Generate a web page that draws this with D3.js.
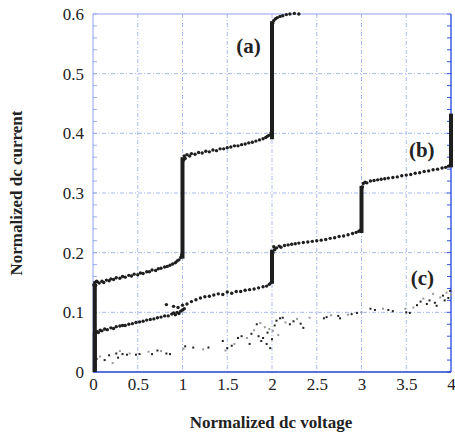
<!DOCTYPE html>
<html>
<head>
<meta charset="utf-8">
<script src="https://cdn.jsdelivr.net/npm/d3@7"></script>
<style>
  body { margin: 0; background: #fff; }
  svg text { font-family: "Liberation Serif", "DejaVu Serif", serif; fill: #222; }
</style>
</head>
<body>
<svg></svg>
<script>
// curve (a): plateaus as dots, steps as thick vertical runs [x, yFrom, yTo]
var aDots = [[0.01,0.146],[0.02,0.150],[0.03,0.145],[0.04,0.152],[0.05,0.151],[0.07,0.149],[0.1,0.152],[0.12,0.150],
  [0.15,0.154],[0.18,0.153],[0.2,0.156],[0.23,0.155],[0.26,0.158],[0.3,0.157],[0.33,0.160],[0.36,0.159],[0.4,0.162],
  [0.43,0.161],[0.46,0.164],[0.5,0.163],[0.53,0.166],[0.56,0.165],[0.6,0.168],[0.63,0.168],[0.66,0.171],[0.7,0.170],
  [0.73,0.173],[0.76,0.174],[0.8,0.176],[0.83,0.177],[0.86,0.179],[0.89,0.181],[0.92,0.183],[0.94,0.186],[0.96,0.188],
  [0.98,0.192],[0.99,0.196],
  [1.01,0.355],[1.02,0.362],[1.03,0.358],[1.05,0.364],[1.08,0.362],[1.1,0.366],[1.14,0.365],[1.18,0.368],[1.22,0.367],
  [1.26,0.370],[1.3,0.369],[1.34,0.372],[1.38,0.371],[1.42,0.374],[1.46,0.374],[1.5,0.376],[1.54,0.377],[1.58,0.379],
  [1.62,0.379],[1.66,0.381],[1.7,0.382],[1.74,0.384],[1.78,0.385],[1.82,0.387],[1.86,0.389],[1.9,0.391],[1.93,0.393],
  [1.95,0.395],[1.97,0.397],[1.99,0.401],
  [2.01,0.585],[2.02,0.589],[2.04,0.592],[2.06,0.594],[2.09,0.596],[2.12,0.597],[2.16,0.599],[2.2,0.6],[2.25,0.601],[2.3,0.6]];
var aSteps = [[0.02,0,0.148],[1.0,0.19,0.36],[2.0,0.39,0.588]];

// curve (b)
var bDots = [[0.02,0.062],[0.04,0.068],[0.06,0.066],[0.08,0.070],[0.1,0.069],[0.13,0.072],[0.16,0.071],[0.2,0.074],
  [0.23,0.073],[0.26,0.076],[0.3,0.077],[0.33,0.078],[0.36,0.078],[0.4,0.080],[0.44,0.081],[0.48,0.083],[0.52,0.084],
  [0.56,0.085],[0.6,0.087],[0.64,0.088],[0.68,0.089],[0.72,0.091],[0.76,0.092],[0.8,0.094],[0.82,0.113],[0.84,0.094],
  [0.88,0.097],[0.9,0.099],[0.9,0.110],[0.92,0.096],[0.94,0.100],[0.95,0.108],[0.96,0.098],[0.98,0.102],[1.0,0.104],
  [1.0,0.112],[1.02,0.106],[1.05,0.114],[1.1,0.118],[1.15,0.121],[1.2,0.124],[1.25,0.126],[1.3,0.127],[1.35,0.129],
  [1.4,0.131],[1.45,0.130],[1.5,0.134],[1.55,0.132],[1.6,0.135],[1.65,0.135],[1.7,0.137],[1.75,0.138],[1.8,0.139],
  [1.85,0.141],[1.9,0.143],[1.94,0.144],[1.97,0.147],[1.99,0.150],
  [2.01,0.200],[2.02,0.210],[2.03,0.205],[2.05,0.208],[2.08,0.211],[2.1,0.209],[2.14,0.212],[2.18,0.213],[2.22,0.214],
  [2.26,0.215],[2.3,0.216],[2.35,0.217],[2.4,0.218],[2.45,0.219],[2.5,0.220],[2.55,0.221],[2.6,0.222],[2.65,0.224],
  [2.7,0.225],[2.75,0.227],[2.8,0.228],[2.85,0.230],[2.9,0.232],[2.94,0.234],[2.97,0.236],[2.99,0.238],
  [3.01,0.310],[3.02,0.316],[3.04,0.318],[3.06,0.317],[3.1,0.320],[3.14,0.321],[3.18,0.322],[3.22,0.323],[3.26,0.324],
  [3.3,0.325],[3.35,0.326],[3.4,0.327],[3.45,0.329],[3.5,0.330],[3.55,0.331],[3.6,0.333],[3.65,0.334],[3.7,0.336],
  [3.75,0.337],[3.8,0.339],[3.85,0.340],[3.9,0.342],[3.94,0.343],[3.97,0.345],[3.99,0.346]];
var bSteps = [[0.02,0,0.066],[2.0,0.148,0.205],[3.0,0.233,0.312],[4.0,0.343,0.433]];

// curve (c): sparse scattered points
var cDots = [[0.04,0.022],[0.08,0.026],[0.13,0.020],[0.18,0.028],[0.22,0.015],[0.26,0.031],[0.28,0.024],[0.3,0.035],
  [0.33,0.030],[0.38,0.029],[0.41,0.031],[0.48,0.029],[0.52,0.030],[0.62,0.034],[0.66,0.030],[0.72,0.036],[0.76,0.035],
  [0.82,0.031],[0.86,0.030],[1.01,0.039],[1.03,0.043],[1.12,0.041],[1.23,0.038],[1.29,0.041],[1.45,0.052],[1.48,0.036],
  [1.5,0.040],[1.55,0.044],[1.58,0.047],[1.62,0.057],[1.66,0.060],[1.72,0.057],[1.75,0.047],[1.77,0.064],[1.8,0.070],
  [1.83,0.080],[1.85,0.060],[1.87,0.082],[1.88,0.052],[1.9,0.057],[1.92,0.075],[1.94,0.047],[1.95,0.066],[1.97,0.072],
  [1.98,0.040],[2.0,0.055],[2.01,0.069],[2.03,0.078],[2.05,0.086],[2.07,0.062],[2.09,0.090],[2.12,0.091],[2.15,0.083],
  [2.2,0.080],[2.24,0.085],[2.28,0.089],[2.32,0.081],[2.35,0.074],[2.42,0.091],[2.58,0.090],[2.61,0.092],[2.66,0.095],
  [2.74,0.094],[2.76,0.090],[2.85,0.096],[2.89,0.097],[2.95,0.099],[3.0,0.100],[3.1,0.106],[3.15,0.104],[3.24,0.106],
  [3.3,0.104],[3.35,0.102],[3.49,0.106],[3.5,0.100],[3.54,0.099],[3.58,0.108],[3.62,0.112],[3.66,0.118],[3.69,0.123],
  [3.73,0.114],[3.76,0.120],[3.8,0.131],[3.82,0.116],[3.84,0.111],[3.88,0.125],[3.91,0.128],[3.93,0.120],[3.95,0.133],
  [3.97,0.124],[3.99,0.136],[4.0,0.130]];

var xTicks = [0, 0.5, 1, 1.5, 2, 2.5, 3, 3.5, 4];
var yTicks = [0, 0.1, 0.2, 0.3, 0.4, 0.5, 0.6];
var curveLabels = [["(a)", 1.6, 0.535], ["(b)", 3.53, 0.36], ["(c)", 3.55, 0.146]];

var svg = d3.select("svg").attr("width", 455).attr("height", 438),
    margin = {top: 14, right: 4, bottom: 66, left: 93},
    width = 455 - margin.left - margin.right,
    height = 438 - margin.top - margin.bottom;

var x = d3.scaleLinear().domain([0, 4]).range([0, width]),
    y = d3.scaleLinear().domain([0, 0.6]).range([height, 0]);

var g = svg.append("g")
    .attr("transform", "translate(" + margin.left + "," + margin.top + ")");

// grid
g.selectAll(".vgrid").data(xTicks.slice(1, -1)).enter().append("line")
    .attr("x1", x).attr("x2", x).attr("y1", 0).attr("y2", height)
    .attr("stroke", "#a9b9ee").attr("stroke-width", 1).attr("stroke-dasharray", "4,2,1,2");
g.selectAll(".hgrid").data(yTicks.slice(1, -1)).enter().append("line")
    .attr("y1", y).attr("y2", y).attr("x1", 0).attr("x2", width)
    .attr("stroke", "#a9b9ee").attr("stroke-width", 1).attr("stroke-dasharray", "4,2,1,2");

// minor ticks on left/right
var minor = d3.range(0, 0.601, 0.02);
g.selectAll(".mtl").data(minor).enter().append("line")
    .attr("x1", 0).attr("x2", 4).attr("y1", y).attr("y2", y)
    .attr("stroke", "#9aaeea");
g.selectAll(".mtr").data(minor).enter().append("line")
    .attr("x1", width - 4).attr("x2", width).attr("y1", y).attr("y2", y)
    .attr("stroke", "#3355dd");

// frame
g.append("line").attr("x1", 0).attr("x2", width).attr("y1", 0).attr("y2", 0).attr("stroke", "#8ea3ea");
g.append("line").attr("x1", 0).attr("x2", 0).attr("y1", 0).attr("y2", height).attr("stroke", "#8ea3ea");
g.append("line").attr("x1", width).attr("x2", width).attr("y1", 0).attr("y2", height).attr("stroke", "#2244dd").attr("stroke-width", 1.3);
g.append("line").attr("x1", 0).attr("x2", width).attr("y1", height).attr("y2", height).attr("stroke", "#2244cc").attr("stroke-width", 1.5);

// axes (labels only)
var xAxis = g.append("g").attr("transform", "translate(0," + height + ")")
    .call(d3.axisBottom(x).tickValues(xTicks).tickSize(0).tickPadding(6).tickFormat(d3.format("")));
var yAxis = g.append("g")
    .call(d3.axisLeft(y).tickValues(yTicks).tickSize(0).tickPadding(9).tickFormat(d3.format("")));
[xAxis, yAxis].forEach(function(a) {
    a.attr("font-family", null).attr("font-size", null);
    a.select(".domain").remove();
    a.selectAll("text").attr("font-family", "'Liberation Serif', serif").attr("font-size", "17px").attr("fill", "#333");
});

// curves
function drawCurve(dots, steps, r) {
    g.selectAll(null).data(steps).enter().append("line")
        .attr("x1", function(d) { return x(d[0]); })
        .attr("x2", function(d) { return x(d[0]); })
        .attr("y1", function(d) { return y(d[1]); })
        .attr("y2", function(d) { return y(d[2]); })
        .attr("stroke", "#1e1e1e").attr("stroke-width", 4);
    g.selectAll(null).data(dots).enter().append("circle")
        .attr("cx", function(d) { return x(d[0]); })
        .attr("cy", function(d) { return y(d[1]); })
        .attr("r", r).attr("fill", "#1e1e1e");
}
drawCurve(aDots, aSteps, 1.7);
drawCurve(bDots, bSteps, 1.7);

g.selectAll(".cdot").data(cDots).enter().append("rect")
    .attr("x", function(d) { return x(d[0]) - 1; })
    .attr("y", function(d) { return y(d[1]) - 1; })
    .attr("width", 2).attr("height", 2)
    .attr("fill", function(d, i) { return i % 3 == 1 ? "#999" : "#222"; });

// curve labels
g.selectAll(".clab").data(curveLabels).enter().append("text")
    .attr("x", function(d) { return x(d[1]); })
    .attr("y", function(d) { return y(d[2]); })
    .attr("font-size", "21px").attr("font-weight", "bold")
    .text(function(d) { return d[0]; });

// axis titles
svg.append("text").attr("x", 271).attr("y", 428).attr("text-anchor", "middle")
    .attr("font-size", "17px").attr("font-weight", "bold").text("Normalized dc voltage");
svg.append("text").attr("transform", "translate(22,193) rotate(-90)").attr("text-anchor", "middle")
    .attr("font-size", "17px").attr("font-weight", "bold").text("Normalized dc current");
</script>
</body>
</html>
